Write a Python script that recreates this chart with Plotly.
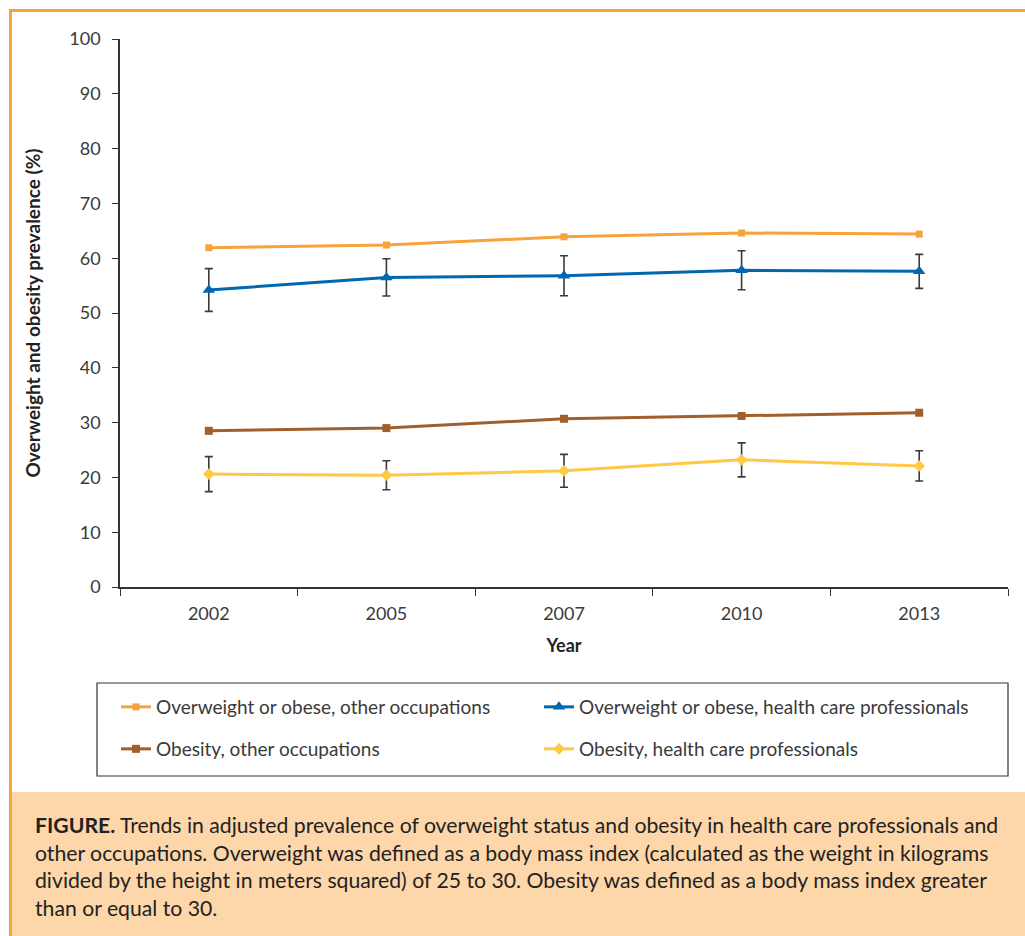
import plotly.graph_objects as go

years = ["2002", "2005", "2007", "2010", "2013"]

ow_other = [61.9, 62.4, 63.9, 64.6, 64.4]
ow_hcp = [54.2, 56.5, 56.8, 57.8, 57.6]
ow_hcp_err = [3.9, 3.4, 3.65, 3.55, 3.1]
ob_other = [28.5, 29.0, 30.7, 31.2, 31.8]
ob_hcp = [20.6, 20.4, 21.2, 23.2, 22.1]
ob_hcp_err = [3.2, 2.65, 3.0, 3.1, 2.75]

y_ticks = [0, 10, 20, 30, 40, 50, 60, 70, 80, 90, 100]

FONT = "Lato"
ORANGE = "#F7A23B"
BLUE = "#0067B1"
BROWN = "#A05F2C"
YELLOW = "#FFC845"
ERR = dict(type="data", visible=True, color="#3a3a3a", thickness=1.6, width=4)

W, H = 1025, 936
L, R, T, B = 120, 17, 39, 349
PW, PH = W - L - R, H - T - B


def px_x(px):
    return (px - L) / PW


def px_y(py):
    return (H - B - py) / PH


fig = go.Figure()

fig.add_trace(go.Scatter(
    x=years, y=ow_other, name="Overweight or obese, other occupations",
    mode="lines+markers", line=dict(color=ORANGE, width=3),
    marker=dict(symbol="square", size=7, color=ORANGE), legend="legend"))
fig.add_trace(go.Scatter(
    x=years, y=ow_hcp, name="Overweight or obese, health care professionals",
    mode="lines+markers", line=dict(color=BLUE, width=3),
    marker=dict(symbol="triangle-up", size=11, color=BLUE),
    error_y=dict(array=ow_hcp_err, **ERR), legend="legend2"))
fig.add_trace(go.Scatter(
    x=years, y=ob_other, name="Obesity, other occupations",
    mode="lines+markers", line=dict(color=BROWN, width=3),
    marker=dict(symbol="square", size=8, color=BROWN), legend="legend3"))
fig.add_trace(go.Scatter(
    x=years, y=ob_hcp, name="Obesity, health care professionals",
    mode="lines+markers", line=dict(color=YELLOW, width=3),
    marker=dict(symbol="diamond", size=9, color=YELLOW),
    error_y=dict(array=ob_hcp_err, **ERR), legend="legend4"))

legend_common = dict(
    orientation="h", xanchor="left", yanchor="middle",
    font=dict(family=FONT, size=19, color="#3a3a3a"),
    bgcolor="rgba(0,0,0,0)", borderwidth=0, itemwidth=30,
)

shapes = [
    # outer frame
    dict(type="line", xref="paper", yref="paper", x0=px_x(10.5), x1=px_x(W + 5),
         y0=px_y(10.5), y1=px_y(10.5), line=dict(color=ORANGE, width=3)),
    dict(type="line", xref="paper", yref="paper", x0=px_x(10.5), x1=px_x(10.5),
         y0=px_y(9), y1=px_y(H + 5), line=dict(color=ORANGE, width=3)),
    # caption band
    dict(type="rect", xref="paper", yref="paper", x0=px_x(12), x1=px_x(W + 5),
         y0=px_y(792), y1=px_y(H + 5), fillcolor="#FDD6A9", line=dict(width=0),
         layer="below"),
    # legend box
    dict(type="rect", xref="paper", yref="paper", x0=px_x(97), x1=px_x(1008),
         y0=px_y(776), y1=px_y(683), line=dict(color="#333333", width=1.2)),
]

caption = ("<b>FIGURE.</b> Trends in adjusted prevalence of overweight status and obesity in health care professionals and<br>"
           "other occupations. Overweight was defined as a body mass index (calculated as the weight in kilograms<br>"
           "divided by the height in meters squared) of 25 to 30. Obesity was defined as a body mass index greater<br>"
           "than or equal to 30.")

fig.update_layout(
    width=W, height=H,
    margin=dict(l=L, r=R, t=T, b=B),
    paper_bgcolor="white", plot_bgcolor="white",
    font=dict(family=FONT, color="#3a3a3a"),
    showlegend=True,
    legend=dict(x=px_x(116), y=px_y(707), **legend_common),
    legend2=dict(x=px_x(539), y=px_y(707), **legend_common),
    legend3=dict(x=px_x(116), y=px_y(749), **legend_common),
    legend4=dict(x=px_x(539), y=px_y(749), **legend_common),
    shapes=shapes,
    annotations=[dict(
        xref="paper", yref="paper", x=px_x(33), y=px_y(810),
        xanchor="left", yanchor="top", align="left", showarrow=False,
        text=caption, font=dict(family=FONT, size=21.2, color="#222222"))],
)

fig.update_xaxes(
    type="category", range=[-0.5, 4.5], tickson="boundaries",
    ticks="outside", ticklen=7, tickwidth=1.3, tickcolor="#333333",
    showline=True, linecolor="#333333", linewidth=1.5, showgrid=False,
    ticklabelstandoff=10,
    tickfont=dict(family=FONT, size=18, color="#3a3a3a"),
    title=dict(text="<b>Year</b>", font=dict(family=FONT, size=18, color="#222222"),
               standoff=16),
)
fig.update_yaxes(
    range=[0, 100], tickvals=y_ticks,
    ticks="outside", ticklen=6, tickwidth=1.3, tickcolor="#333333",
    showline=True, linecolor="#333333", linewidth=1.5, showgrid=False, zeroline=False,
    ticklabelstandoff=8,
    tickfont=dict(family=FONT, size=18, color="#3a3a3a"),
    title=dict(text="<b>Overweight and obesity prevalence (%)</b>",
               font=dict(family=FONT, size=19, color="#222222"), standoff=24),
)

fig.write_html("out.html")
